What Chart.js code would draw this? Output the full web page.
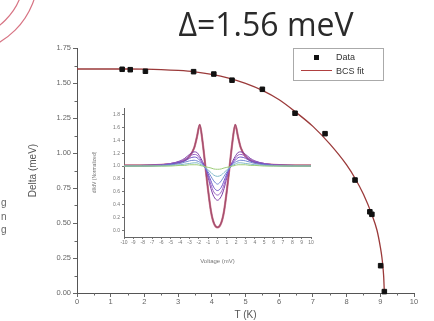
<html>
<head>
<script src="https://cdn.jsdelivr.net/npm/chart.js@4.4.0/dist/chart.umd.min.js"></script>
<style>
  body { margin: 0; background: #fff; }
  #wrap { position: relative; width: 434px; height: 321px; overflow: hidden; font-family: "Liberation Sans", Arial, sans-serif; }
  #main { position: absolute; left: 0; top: 0; }
  #inset { position: absolute; left: 92px; top: 100px; }
  #title { position: absolute; left: 150px; top: 2px; width: 232px; text-align: center; font-family: "Open Sans", sans-serif; font-size: 32px; color: #2a2a2a; white-space: nowrap; }
  #legend { position: absolute; left: 293px; top: 48px; width: 89px; height: 31px; border: 1px solid #aaa; background: #fff; font-size: 9px; color: #333; }
  #legend div { position: absolute; left: 0; height: 12px; line-height: 12px; }
  #legend .txt { left: 42px; }
  .frag { position: absolute; left: 1px; font-size: 10px; color: #666; }
</style>
</head>
<body>
<div id="wrap">
  <canvas id="main" width="434" height="321"></canvas>
  <canvas id="inset" width="228" height="165"></canvas>
  <div id="title">Δ=1.56 meV</div>
  <div id="legend"></div>
  <span class="frag" style="top:197px">g</span>
  <span class="frag" style="top:211px">n</span>
  <span class="frag" style="top:224px">g</span>
</div>
<script>
// main plot: gap vs temperature
var dataT = [1.34, 1.58, 2.03, 3.46, 4.06, 4.6, 5.5, 6.47, 7.36, 8.25, 8.69, 8.75, 9.01, 9.12];
var dataDelta = [1.598, 1.595, 1.584, 1.581, 1.564, 1.52, 1.455, 1.284, 1.138, 0.807, 0.58, 0.562, 0.195, 0.01];

var fitT = [0, 0.5, 1, 1.5, 2, 2.5, 3, 3.5, 4, 4.5, 5, 5.5, 6, 6.5, 7, 7.5, 8, 8.25, 8.5, 8.75, 8.9, 9.0, 9.05, 9.1, 9.12];
var fitDelta = [1.60, 1.60, 1.60, 1.60, 1.599, 1.596, 1.59, 1.58, 1.562, 1.535, 1.497, 1.447, 1.38, 1.29, 1.19, 1.065, 0.915, 0.82, 0.705, 0.56, 0.45, 0.33, 0.25, 0.12, 0.0];

// inset: normalized dI/dV spectra
var voltage = [-10, -8, -6, -5, -4, -3.5, -3, -2.5, -2.2, -1.9, -1.6, -1.3, -1, -0.7, -0.4, 0, 0.4, 0.7, 1, 1.3, 1.6, 1.9, 2.2, 2.5, 3, 3.5, 4, 5, 6, 8, 10];
var spec1 = [1.01, 1.01, 1.02, 1.03, 1.06, 1.09, 1.15, 1.28, 1.45, 1.64, 1.38, 1.0, 0.62, 0.3, 0.12, 0.05, 0.12, 0.3, 0.62, 1.0, 1.38, 1.64, 1.45, 1.28, 1.15, 1.09, 1.06, 1.03, 1.02, 1.01, 1.01];
var spec2 = [1.0, 1.01, 1.02, 1.04, 1.08, 1.12, 1.18, 1.22, 1.21, 1.15, 1.07, 0.97, 0.82, 0.65, 0.53, 0.47, 0.53, 0.65, 0.82, 0.97, 1.07, 1.15, 1.21, 1.22, 1.18, 1.12, 1.08, 1.04, 1.02, 1.01, 1.0];
var spec3 = [1.0, 1.01, 1.02, 1.04, 1.07, 1.1, 1.15, 1.18, 1.17, 1.12, 1.05, 0.97, 0.85, 0.71, 0.6, 0.55, 0.6, 0.71, 0.85, 0.97, 1.05, 1.12, 1.17, 1.18, 1.15, 1.1, 1.07, 1.04, 1.02, 1.01, 1.0];
var spec4 = [1.0, 1.0, 1.01, 1.03, 1.06, 1.08, 1.12, 1.14, 1.13, 1.09, 1.04, 0.97, 0.88, 0.77, 0.67, 0.62, 0.67, 0.77, 0.88, 0.97, 1.04, 1.09, 1.13, 1.14, 1.12, 1.08, 1.06, 1.03, 1.01, 1.0, 1.0];
var spec5 = [1.0, 1.0, 1.01, 1.02, 1.04, 1.06, 1.08, 1.09, 1.08, 1.06, 1.02, 0.97, 0.91, 0.84, 0.77, 0.72, 0.77, 0.84, 0.91, 0.97, 1.02, 1.06, 1.08, 1.09, 1.08, 1.06, 1.04, 1.02, 1.01, 1.0, 1.0];
var spec6 = [1.0, 1.0, 1.0, 1.01, 1.02, 1.03, 1.04, 1.05, 1.05, 1.03, 1.01, 0.98, 0.94, 0.9, 0.86, 0.84, 0.86, 0.9, 0.94, 0.98, 1.01, 1.03, 1.05, 1.05, 1.04, 1.03, 1.02, 1.01, 1.0, 1.0, 1.0];
var spec7 = [1.0, 1.0, 1.0, 1.0, 1.01, 1.01, 1.02, 1.02, 1.02, 1.01, 1.0, 0.99, 0.98, 0.97, 0.955, 0.95, 0.955, 0.97, 0.98, 0.99, 1.0, 1.01, 1.02, 1.02, 1.02, 1.01, 1.01, 1.0, 1.0, 1.0, 1.0];

function pairs(xs, ys) {
    return xs.map(function (x, i) { return { x: x, y: ys[i] }; });
}

// draws the short minor ticks and the red marks of the slide corner
var extras = {
    id: 'extras',
    afterDraw: function (chart) {
        var ctx = chart.ctx, xs = chart.scales.x, ys = chart.scales.y;
        var bottom = chart.chartArea.bottom, left = chart.chartArea.left;
        ctx.save();
        ctx.strokeStyle = '#666';
        ctx.lineWidth = 1;
        ctx.beginPath();
        for (var t = 0.5; t < 10; t += 1) {
            var px = Math.round(xs.getPixelForValue(t)) + 0.5;
            ctx.moveTo(px, bottom); ctx.lineTo(px, bottom + 2.5);
        }
        for (var d = 0.125; d < 1.75; d += 0.25) {
            var py = Math.round(ys.getPixelForValue(d)) + 0.5;
            ctx.moveTo(left, py); ctx.lineTo(left - 2.5, py);
        }
        ctx.stroke();
        ctx.strokeStyle = 'rgba(205,80,100,0.8)';
        ctx.lineWidth = 1.2;
        ctx.beginPath(); ctx.arc(-40, -25, 78, 0, Math.PI / 2); ctx.stroke();
        ctx.beginPath(); ctx.arc(-40, -25, 64, 0, Math.PI / 2); ctx.stroke();
        ctx.restore();
    }
};

var tickFont = { family: 'Liberation Sans', size: 7.5 };

var mainChart = new Chart(document.getElementById('main').getContext('2d'), {
    type: 'scatter',
    data: {
        datasets: [{
            label: 'Data',
            data: pairs(dataT, dataDelta),
            pointStyle: 'rect',
            pointRadius: 3.2,
            backgroundColor: '#111',
            borderColor: '#111',
            clip: false
        }, {
            label: 'BCS fit',
            data: pairs(fitT, fitDelta),
            showLine: true,
            pointRadius: 0,
            borderColor: '#9b3a3a',
            borderWidth: 1.3,
            cubicInterpolationMode: 'monotone',
            clip: false
        }]
    },
    options: {
        responsive: false,
        animation: false,
        events: [],
        layout: { padding: { left: 0, right: 20, top: 48, bottom: 0 } },
        plugins: { legend: { display: false }, tooltip: { enabled: false } },
        scales: {
            x: {
                type: 'linear', min: 0, max: 10,
                afterFit: function (s) { s.height = 28; },
                ticks: { stepSize: 1, color: '#666', font: tickFont, padding: 0, maxRotation: 0 },
                grid: { drawOnChartArea: false, tickLength: 4, color: '#666' },
                border: { color: '#555' },
                title: { display: true, text: 'T (K)', color: '#555', font: { family: 'Liberation Sans', size: 10 }, padding: { top: 1, bottom: 0 } }
            },
            y: {
                type: 'linear', min: 0, max: 1.75,
                afterFit: function (s) { s.width = 77; },
                ticks: { stepSize: 0.25, color: '#666', font: tickFont, padding: 2, callback: function (v) { return v.toFixed(2); } },
                grid: { drawOnChartArea: false, tickLength: 4, color: '#666' },
                border: { color: '#555' },
                title: { display: true, text: 'Delta (meV)', color: '#555', font: { family: 'Liberation Sans', size: 10 }, padding: { top: 27, bottom: 0 } }
            }
        }
    },
    plugins: [extras]
});

// html legend built from the dataset labels
var legend = document.getElementById('legend');
legend.innerHTML =
    '<div style="top:3px;left:20px;width:5px;height:5px;background:#111;margin-top:3px"></div>' +
    '<div class="txt" style="top:2px">' + mainChart.data.datasets[0].label + '</div>' +
    '<div style="top:21px;left:7px;width:31px;height:0;border-top:1px solid #b04040"></div>' +
    '<div class="txt" style="top:16px">' + mainChart.data.datasets[1].label + '</div>';

var specColors = ['#7d3fa8', '#9a62c4', '#6d54c8', '#6f86d2', '#80b8c8', '#9ccc78'];
var specs = [spec2, spec3, spec4, spec5, spec6, spec7];
var insetSets = [];
specs.slice().reverse().forEach(function (s, i) {
    insetSets.push({ data: pairs(voltage, s), borderColor: specColors[specs.length - 1 - i], borderWidth: 1, pointRadius: 0, showLine: true, cubicInterpolationMode: 'monotone' });
});
insetSets.push({ data: pairs(voltage, spec1), borderColor: 'rgba(200,90,120,0.75)', borderWidth: 2.2, pointRadius: 0, showLine: true, cubicInterpolationMode: 'monotone' });
insetSets.push({ data: pairs(voltage, spec1), borderColor: '#3d2b48', borderWidth: 1.3, pointRadius: 0, showLine: true, cubicInterpolationMode: 'monotone' });

var tinyFont = { family: 'Liberation Sans', size: 5 };

new Chart(document.getElementById('inset').getContext('2d'), {
    type: 'scatter',
    data: { datasets: insetSets },
    options: {
        responsive: false,
        animation: false,
        events: [],
        layout: { padding: { left: 0, right: 9, top: 8, bottom: 0 } },
        plugins: { legend: { display: false }, tooltip: { enabled: false } },
        scales: {
            x: {
                type: 'linear', min: -10, max: 10,
                afterFit: function (s) { s.height = 28; },
                ticks: { stepSize: 1, autoSkip: false, maxRotation: 0, color: '#777', font: tinyFont, padding: 1 },
                grid: { drawOnChartArea: false, tickLength: 2, color: '#777' },
                border: { color: '#666' },
                title: { display: true, text: 'Voltage (mV)', color: '#777', font: { family: 'Liberation Sans', size: 6 }, padding: { top: 3, bottom: 0 } }
            },
            y: {
                type: 'linear', min: -0.1, max: 1.9,
                afterFit: function (s) { s.width = 32; },
                afterBuildTicks: function (s) {
                    s.ticks = [0, 0.2, 0.4, 0.6, 0.8, 1.0, 1.2, 1.4, 1.6, 1.8].map(function (v) { return { value: v }; });
                },
                ticks: { color: '#777', font: tinyFont, padding: 2, callback: function (v) { return v.toFixed(1); } },
                grid: { drawOnChartArea: false, tickLength: 2, color: '#777' },
                border: { color: '#666' },
                title: { display: true, text: 'dI/dV (Normalized)', color: '#777', font: { family: 'Liberation Sans', size: 5 }, padding: { top: 0, bottom: 5 } }
            }
        }
    }
});
</script>
</body>
</html>
